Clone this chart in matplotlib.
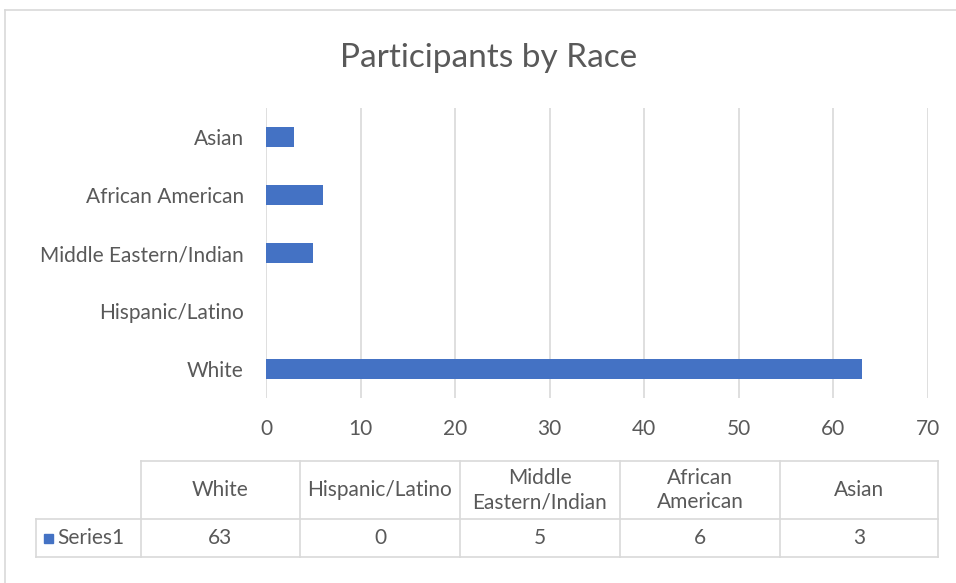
import matplotlib.pyplot as plt
from matplotlib.patches import Rectangle

plt.rcParams['font.family'] = ['Lato', 'DejaVu Sans']

# data (bottom to top on the bar axis)
categories = ["White", "Hispanic/Latino", "Middle Eastern/Indian", "African American", "Asian"]
values = [63, 0, 5, 6, 3]
table_headers = ["White", "Hispanic/Latino", "Middle\nEastern/Indian", "African\nAmerican", "Asian"]
series_name = "Series1"
x_ticks = [0, 10, 20, 30, 40, 50, 60, 70]

BAR = "#4472C4"
TEXT = "#595959"
GRID = "#D9D9D9"
W, H = 956, 583
FS = 15

fig = plt.figure(figsize=(W / 100, H / 100), dpi=100)

# overlay in pixel coordinates for the frame and the data table
ov = fig.add_axes([0, 0, 1, 1])
ov.set_xlim(0, W)
ov.set_ylim(H, 0)
ov.axis("off")
ov.plot([5, W], [10, 10], color=GRID, lw=1.2)
ov.plot([5, 5], [10, H], color=GRID, lw=1.2)

ov.text(489, 58, "Participants by Race", ha="center", va="center",
        fontsize=24, color=TEXT)

# bar chart
ax = fig.add_axes([266 / W, 1 - 398 / H, (928 - 266) / W, (398 - 108) / H])
ax.barh(range(len(categories)), values, height=0.35, color=BAR)
ax.set_ylim(-0.5, len(categories) - 0.5)
ax.set_xlim(x_ticks[0], x_ticks[-1])
ax.set_xticks(x_ticks)
ax.set_yticks(range(len(categories)))
ax.set_yticklabels(categories)
ax.xaxis.grid(True, color=GRID, lw=1.2)
ax.set_axisbelow(True)
for s in ax.spines.values():
    s.set_visible(False)
ax.tick_params(axis="both", length=0, labelsize=FS, labelcolor=TEXT)
ax.tick_params(axis="x", pad=15)
ax.tick_params(axis="y", pad=16)
ax.patch.set_alpha(0)

# data table
col_edges = [141, 300, 460, 620, 780, 938]
row_top, row_mid, row_bot = 461, 519, 557
label_left = 36
lw = 1.2
ov.plot([col_edges[0], col_edges[-1]], [row_top, row_top], color=GRID, lw=lw)
ov.plot([label_left, col_edges[-1]], [row_mid, row_mid], color=GRID, lw=lw)
ov.plot([label_left, col_edges[-1]], [row_bot, row_bot], color=GRID, lw=lw)
ov.plot([label_left, label_left], [row_mid, row_bot], color=GRID, lw=lw)
for x in col_edges:
    ov.plot([x, x], [row_top, row_bot], color=GRID, lw=lw)

for i, (hdr, v) in enumerate(zip(table_headers, values)):
    cx = (col_edges[i] + col_edges[i + 1]) / 2
    ov.text(cx, (row_top + row_mid) / 2, hdr, ha="center", va="center",
            fontsize=FS, color=TEXT, linespacing=1.3)
    ov.text(cx, (row_mid + row_bot) / 2, str(v), ha="center", va="center",
            fontsize=FS, color=TEXT)

ov.add_patch(Rectangle((44, 534), 9, 9, color=BAR))
ov.text(57, (row_mid + row_bot) / 2, series_name, ha="left", va="center",
        fontsize=FS, color=TEXT)

fig.savefig("out.png", dpi=100)
